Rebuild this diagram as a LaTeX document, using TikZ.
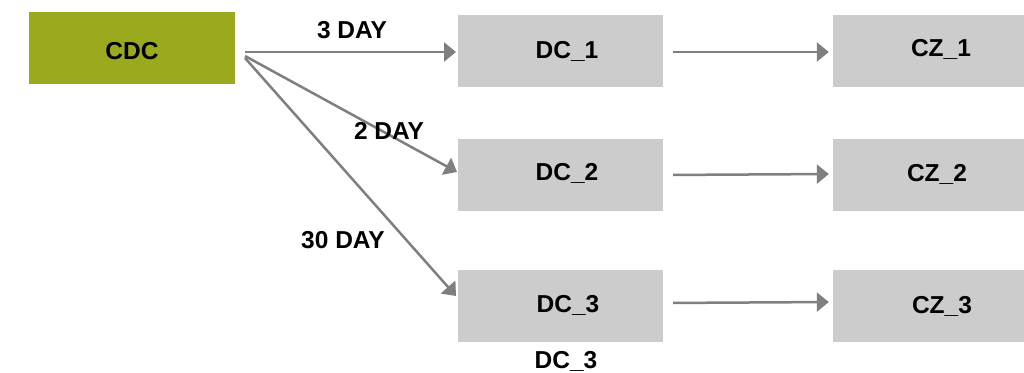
\documentclass[tikz,border=0pt]{standalone}
\usepackage{fontspec}
\setmainfont{Liberation Sans}
\usetikzlibrary{arrows.meta}
\definecolor{olive}{HTML}{9AA91D}
\definecolor{boxgray}{HTML}{CCCCCC}
\definecolor{linkgray}{HTML}{7F7F7F}
\begin{document}
\begin{tikzpicture}[x=1pt,y=-1pt,
  box/.style={fill=boxgray,draw=none,minimum width=205pt,minimum height=72pt,inner sep=0pt},
  srcbox/.style={fill=olive,draw=none,minimum width=206pt,minimum height=72pt,inner sep=0pt},
  txt/.style={font=\fontsize{24.5}{28}\selectfont\bfseries,inner sep=0pt},
  link/.style={draw=linkgray,line width=2.5pt,-{Triangle[length=12pt 0,width=19pt 0]}}]
\useasboundingbox (0,0) rectangle (1024,372);
% source
\node[srcbox] (cdc) at (132,48) {};
\node[txt] (tcdc) at (132,51) {CDC};
% distribution centres
\node[box] (dc1) at (560.5,51) {};
\node[box] (dc2) at (560.5,175) {};
\node[box] (dc3) at (560.5,306) {};
\node[txt] (tdc1) at (567,51) {DC\_1};
\node[txt] (tdc2) at (567,173) {DC\_2};
\node[txt] (tdc3) at (568,305) {DC\_3};
% zones
\node[box] (cz1) at (935.5,51) {};
\node[box] (cz2) at (935.5,175) {};
\node[box] (cz3) at (935.5,306) {};
\node[txt] (tcz1) at (941,49) {CZ\_1};
\node[txt] (tcz2) at (937,174) {CZ\_2};
\node[txt] (tcz3) at (942,306) {CZ\_3};
% arrow anchors
\coordinate (s1) at (245,52);
\coordinate (s2) at (245,56);
\coordinate (s3) at (245,58);
\coordinate (e1) at (456,52);
\coordinate (e2) at (457,172);
\coordinate (e3) at (456,296);
\draw[link] (s1) -- (e1);
\draw[link] (s2) -- (e2);
\draw[link] (s3) -- (e3);
\draw[link,shorten <=10pt,shorten >=4pt] (dc1.east |- 0,52) -- (cz1.west |- 0,52);
\draw[link,shorten <=10pt,shorten >=4pt] (dc2.east |- 0,175) -- (cz2.west |- 0,174);
\draw[link,shorten <=10pt,shorten >=4pt] (dc3.east |- 0,303) -- (cz3.west |- 0,302);
% labels
\node[txt] (l1) at (352,30) {3 DAY};
\node[txt] (l2) at (389,131) {2 DAY};
\node[txt] (l3) at (343,240) {30 DAY};
\node[txt] (l4) at (566,361) {DC\_3};
\end{tikzpicture}
\end{document}
